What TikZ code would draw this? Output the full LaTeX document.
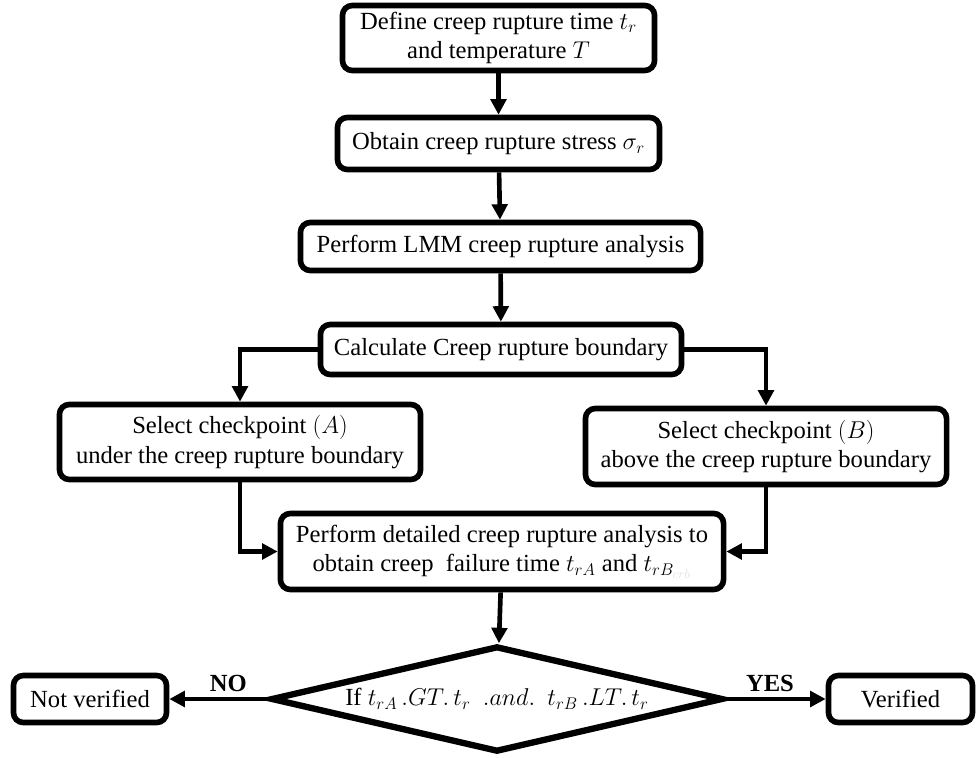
\documentclass[tikz,border=0pt]{standalone}
\usepackage{fontspec}
\setmainfont{Liberation Serif}
\usetikzlibrary{shapes,arrows.meta,positioning,calc}

\begin{document}
\begin{tikzpicture}[
    x=0.025cm, y=-0.025cm,
    font=\fontsize{17.5}{21}\selectfont,
    process/.style={rectangle, draw, line width=4pt, rounded corners=7pt, align=center, inner sep=2pt},
    decision/.style={diamond, draw, line width=4.5pt, aspect=4.1, inner sep=0pt, minimum width=11.3cm, minimum height=2.65cm},
    arrow/.style={-{Triangle[length=11pt, width=11pt]}, line width=3.3pt},
    answer/.style={font=\fontsize{17.5}{21}\selectfont\bfseries}
]
\useasboundingbox (0,0) rectangle (977,757);

% Main chain
\node[process, minimum width=7.8cm, minimum height=1.625cm] (define) at (498.5, 38) {Define creep rupture time $t_r$\\ and temperature $T$};
\node[process, minimum width=8.05cm, minimum height=1.3cm] (stress) at (498.5, 143.5) {Obtain creep rupture stress $\sigma_r$};
\node[process, minimum width=10cm, minimum height=1.2cm] (lmm) at (500.5, 246.5) {Perform LMM creep rupture analysis};
\node[process, minimum width=9.025cm, minimum height=1.25cm] (boundary) at (501, 349.5) {Calculate Creep rupture boundary};

% Checkpoints
\node[process, minimum width=9.025cm, minimum height=1.875cm] (pointA) at (240, 442) {Select checkpoint $(A)$\\ under the creep rupture boundary};
\node[process, minimum width=9.025cm, minimum height=1.9cm] (pointB) at (766, 446.5) {Select checkpoint $(B)$\\ above the creep rupture boundary};
\node[process, minimum width=11.075cm, minimum height=1.9cm] (detailed) at (502, 551.5) {Perform detailed creep rupture analysis to\\ obtain creep\ \ failure time $t_{rA}$ and $t_{rB_{\textcolor{black!12}{crb}}}$};

% Decision and results
\node[decision] (check) at (497, 699) {If $t_{rA}\,.GT.\,t_r$\ \ $.and.$\ \ $t_{rB}\,.LT.\,t_r$};
\node[process, minimum width=3.825cm, minimum height=1.175cm] (notver) at (90, 699) {Not verified};
\node[process, minimum width=3.6cm, minimum height=1.175cm] (verified) at (900.5, 699) {Verified};

% Flows
\draw[arrow] (define) -- (stress);
\draw[arrow] (stress) -- (lmm);
\draw[arrow] (lmm) -- (boundary);
\draw[arrow] (boundary.west) -| (pointA.north);
\draw[arrow] (boundary.east) -| (pointB.north);
\draw[arrow] (pointA.south) |- (detailed.west);
\draw[arrow] (pointB.south) |- (detailed.east);
\draw[arrow] (detailed) -- (check);
\draw[arrow] (check.west) -- node[answer, above, pos=0.4] {NO} (notver.east);
\draw[arrow] (check.east) -- node[answer, above, pos=0.44] {YES} (verified.west);

\end{tikzpicture}
\end{document}
